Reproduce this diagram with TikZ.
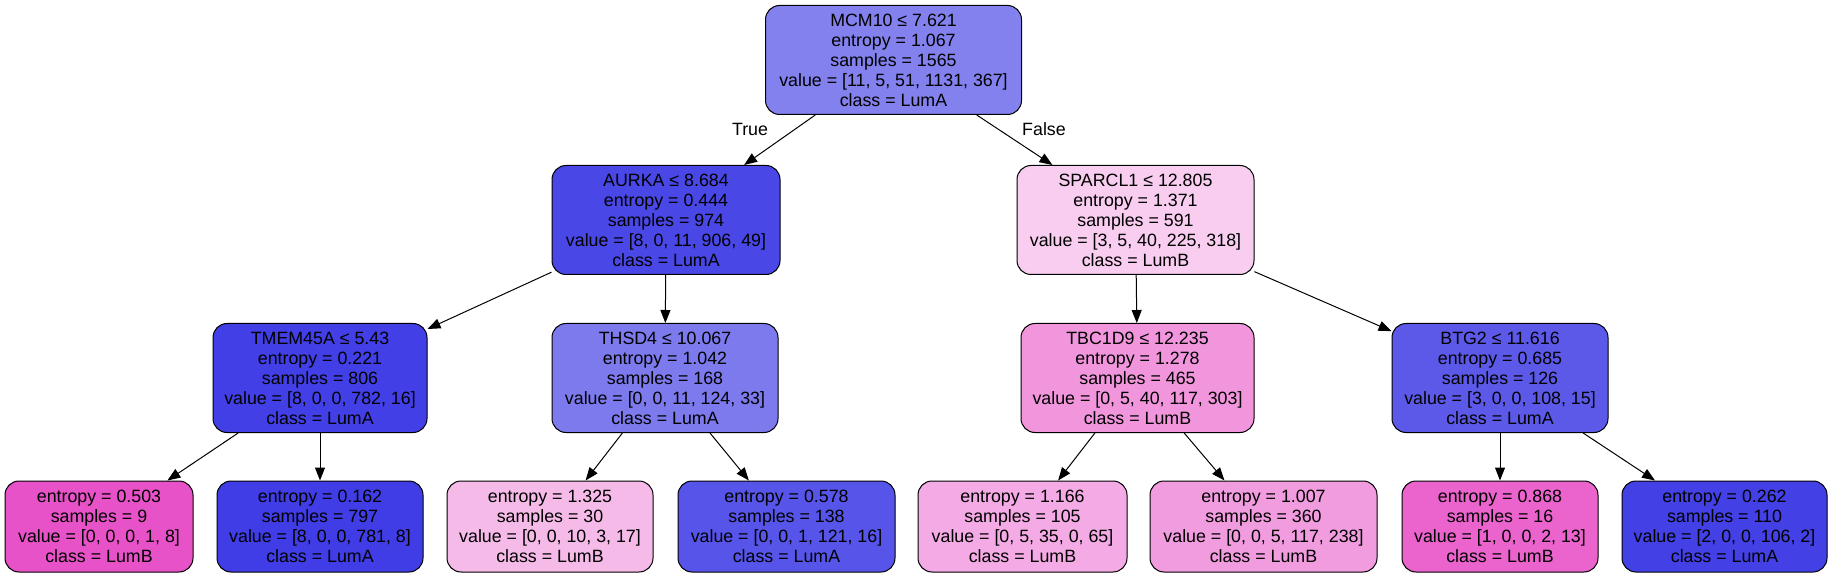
\documentclass[tikz,border=0pt]{standalone}
\usepackage{fontspec}
\setmainfont{Liberation Sans}
\usetikzlibrary{arrows.meta,positioning}
\definecolor{lumA}{RGB}{60,57,229}
\definecolor{lumB}{RGB}{229,57,192}

\begin{document}
\begin{tikzpicture}[
    x=1pt, y=-1pt,
    % define styles
    split/.style={
        draw,
        line width=1pt,
        rounded corners=14pt,
        align=center,
        inner sep=0pt,
        minimum height=109pt,
        font=\fontsize{17.8}{20}\selectfont
    },
    leaf/.style={
        split,
        minimum height=91pt
    },
    link/.style={
        line width=1pt,
        -{Triangle[length=13pt,width=10pt]}
    },
    lbl/.style={
        anchor=base,
        inner sep=0pt,
        font=\fontsize{17.8}{20}\selectfont
    }
]
\useasboundingbox (0,0) rectangle (1834,577);
% Root
\node[split,fill=lumA!63.8,minimum width=256pt] at (893.5,60) (mcm) {MCM10 ≤ 7.621\\ entropy = 1.067\\ samples = 1565\\ value = [11, 5, 51, 1131, 367]\\ class = LumA};
% Level 1
\node[split,fill=lumA!92.7,minimum width=228pt] at (666,220) (aurka) {AURKA ≤ 8.684\\ entropy = 0.444\\ samples = 974\\ value = [8, 0, 11, 906, 49]\\ class = LumA};
\node[split,fill=lumB!25.4,minimum width=237pt] at (1135.5,220) (sparcl) {SPARCL1 ≤ 12.805\\ entropy = 1.371\\ samples = 591\\ value = [3, 5, 40, 225, 318]\\ class = LumB};
% Level 2
\node[split,fill=lumA!97,minimum width=214pt] at (320,378) (tmem) {TMEM45A ≤ 5.43\\ entropy = 0.221\\ samples = 806\\ value = [8, 0, 0, 782, 16]\\ class = LumA};
\node[split,fill=lumA!67.4,minimum width=226pt] at (665,378) (thsd) {THSD4 ≤ 10.067\\ entropy = 1.042\\ samples = 168\\ value = [0, 0, 11, 124, 33]\\ class = LumA};
\node[split,fill=lumB!53.5,minimum width=233pt] at (1137.5,378) (tbc) {TBC1D9 ≤ 12.235\\ entropy = 1.278\\ samples = 465\\ value = [0, 5, 40, 117, 303]\\ class = LumB};
\node[split,fill=lumA!83.8,minimum width=216pt] at (1500,378) (btg) {BTG2 ≤ 11.616\\ entropy = 0.685\\ samples = 126\\ value = [3, 0, 0, 108, 15]\\ class = LumA};
% Leaves
\node[leaf,fill=lumB!87.5,minimum width=188pt] at (99,526.5) (leafa) {entropy = 0.503\\ samples = 9\\ value = [0, 0, 0, 1, 8]\\ class = LumB};
\node[leaf,fill=lumA!98,minimum width=206pt] at (320,526.5) (leafb) {entropy = 0.162\\ samples = 797\\ value = [8, 0, 0, 781, 8]\\ class = LumA};
\node[leaf,fill=lumB!35,minimum width=206pt] at (550,526.5) (leafc) {entropy = 1.325\\ samples = 30\\ value = [0, 0, 10, 3, 17]\\ class = LumB};
\node[leaf,fill=lumA!86.1,minimum width=217pt] at (786.5,526.5) (leafd) {entropy = 0.578\\ samples = 138\\ value = [0, 0, 1, 121, 16]\\ class = LumA};
\node[leaf,fill=lumB!42.9,minimum width=209pt] at (1022.5,526.5) (leafe) {entropy = 1.166\\ samples = 105\\ value = [0, 5, 35, 0, 65]\\ class = LumB};
\node[leaf,fill=lumB!49.8,minimum width=227pt] at (1263.5,526.5) (leaff) {entropy = 1.007\\ samples = 360\\ value = [0, 0, 5, 117, 238]\\ class = LumB};
\node[leaf,fill=lumB!78.6,minimum width=196pt] at (1500,526.5) (leafg) {entropy = 0.868\\ samples = 16\\ value = [1, 0, 0, 2, 13]\\ class = LumB};
\node[leaf,fill=lumA!96.3,minimum width=205pt] at (1724.5,526.5) (leafh) {entropy = 0.262\\ samples = 110\\ value = [2, 0, 0, 106, 2]\\ class = LumA};

% Branch labels
\node[lbl] at (750,136) (ltrue) {True};
\node[lbl] at (1044,136) (lfalse) {False};

% Edges
\draw[link] (mcm) -- (aurka);
\draw[link] (mcm) -- (sparcl);
\draw[link] (aurka) -- (tmem);
\draw[link] (aurka) -- (thsd);
\draw[link] (sparcl) -- (tbc);
\draw[link] (sparcl) -- (btg);
\draw[link] (tmem) -- (leafa);
\draw[link] (tmem) -- (leafb);
\draw[link] (thsd) -- (leafc);
\draw[link] (thsd) -- (leafd);
\draw[link] (tbc) -- (leafe);
\draw[link] (tbc) -- (leaff);
\draw[link] (btg) -- (leafg);
\draw[link] (btg) -- (leafh);
\end{tikzpicture}
\end{document}
